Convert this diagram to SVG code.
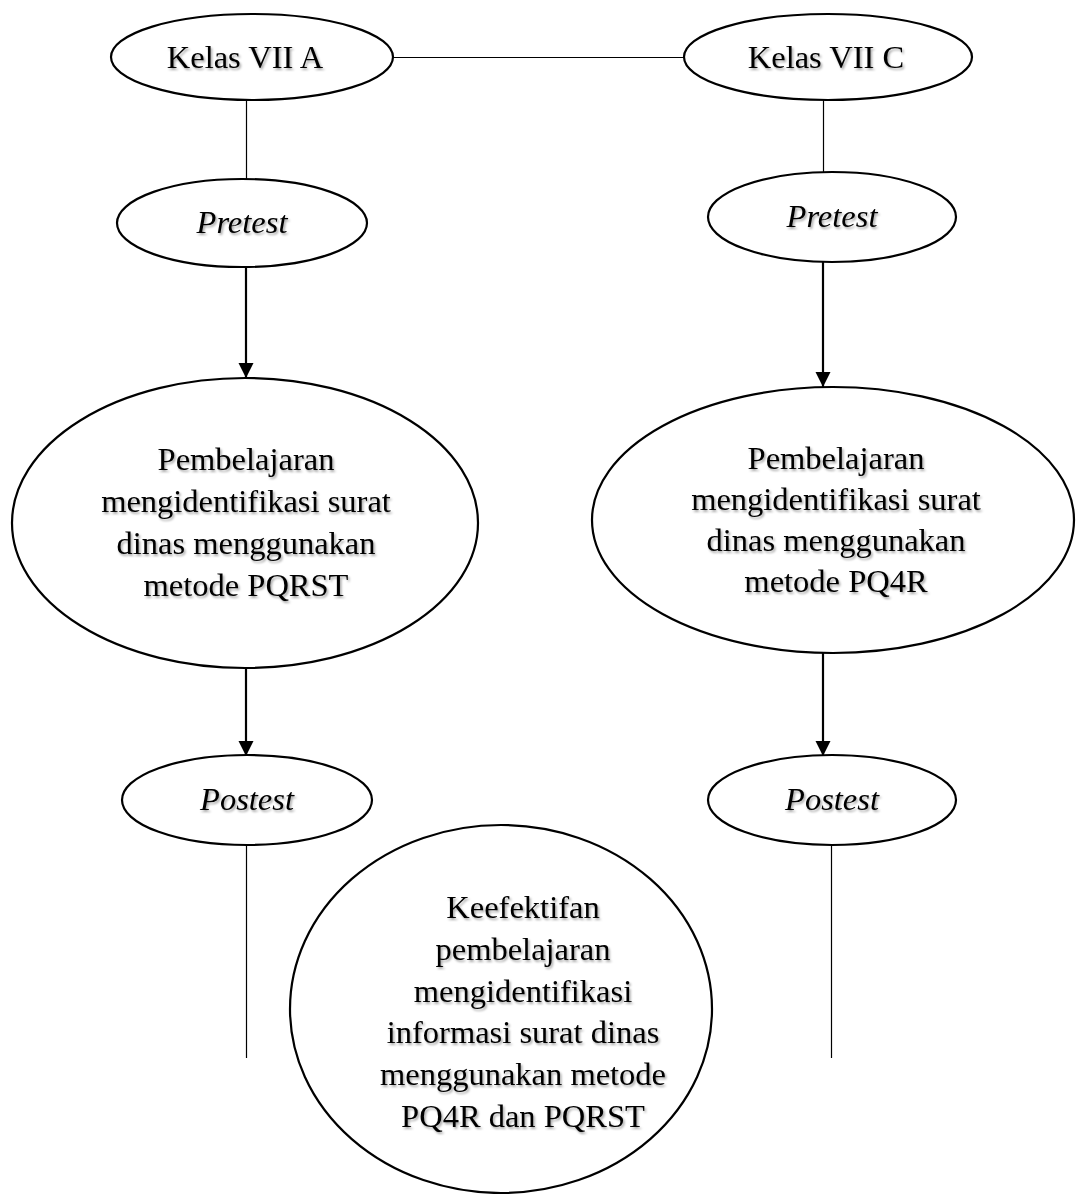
<svg xmlns="http://www.w3.org/2000/svg" width="1076" height="1194" viewBox="0 0 1076 1194">
<defs>
<filter id="sh" x="-10%" y="-30%" width="120%" height="160%">
<feDropShadow dx="1.5" dy="2" stdDeviation="1.3" flood-color="#000" flood-opacity="0.35"/>
</filter>
<marker id="ah" markerWidth="16" markerHeight="16" viewBox="0 0 16 16" refX="15" refY="8" orient="auto" markerUnits="userSpaceOnUse">
<path d="M0,0.5 L15,8 L0,15.5 Z" fill="#000"/>
</marker>
</defs>
<style>
.n{fill:#fff;stroke:#000;stroke-width:2.2}
.t{font-family:"Liberation Serif","Times New Roman",serif;font-size:32.5px;fill:#000;text-anchor:middle;filter:url(#sh)}
.i{font-style:italic}
.thin{stroke:#000;stroke-width:1.2;fill:none}
.arr{stroke:#000;stroke-width:2.2;fill:none;marker-end:url(#ah)}
</style>
<rect width="1076" height="1194" fill="#fff"/>
<g id="connectors">
<line class="thin" x1="393" y1="57.5" x2="684" y2="57.5"/>
<line class="thin" x1="246.5" y1="100" x2="246.5" y2="180"/>
<line class="thin" x1="823.5" y1="100" x2="823.5" y2="173"/>
<line class="arr" x1="246" y1="267" x2="246" y2="378"/>
<line class="arr" x1="823" y1="262" x2="823" y2="387"/>
<line class="arr" x1="246" y1="668" x2="246" y2="756"/>
<line class="arr" x1="823" y1="653" x2="823" y2="756"/>
<line class="thin" x1="246.5" y1="845" x2="246.5" y2="1058"/>
<line class="thin" x1="831.5" y1="845" x2="831.5" y2="1058"/>
</g>
<g id="kelasA">
<ellipse class="n" cx="252" cy="57" rx="141" ry="43"/>
<text class="t" x="245" y="68">Kelas VII A</text>
</g>
<g id="kelasC">
<ellipse class="n" cx="828" cy="57" rx="144" ry="43"/>
<text class="t" x="826" y="68">Kelas VII C</text>
</g>
<g id="pretestA">
<ellipse class="n" cx="242" cy="223" rx="125" ry="44"/>
<text class="t i" x="242" y="233">Pretest</text>
</g>
<g id="pretestC">
<ellipse class="n" cx="832" cy="217" rx="124" ry="45"/>
<text class="t i" x="832" y="227">Pretest</text>
</g>
<g id="pembelajaranA">
<ellipse class="n" cx="245" cy="523" rx="233" ry="145"/>
<text class="t" x="246" y="470">Pembelajaran</text>
<text class="t" x="246" y="512">mengidentifikasi surat</text>
<text class="t" x="246" y="554">dinas menggunakan</text>
<text class="t" x="246" y="596">metode PQRST</text>
</g>
<g id="pembelajaranC">
<ellipse class="n" cx="833" cy="520" rx="241" ry="133"/>
<text class="t" x="836" y="469">Pembelajaran</text>
<text class="t" x="836" y="510">mengidentifikasi surat</text>
<text class="t" x="836" y="551">dinas menggunakan</text>
<text class="t" x="836" y="592">metode PQ4R</text>
</g>
<g id="postestA">
<ellipse class="n" cx="247" cy="800" rx="125" ry="45"/>
<text class="t i" x="247" y="810">Postest</text>
</g>
<g id="postestC">
<ellipse class="n" cx="832" cy="800" rx="124" ry="45"/>
<text class="t i" x="832" y="810">Postest</text>
</g>
<g id="keefektifan">
<ellipse class="n" cx="501" cy="1009" rx="211" ry="184"/>
<text class="t" x="523" y="918">Keefektifan</text>
<text class="t" x="523" y="960">pembelajaran</text>
<text class="t" x="523" y="1002">mengidentifikasi</text>
<text class="t" x="523" y="1043">informasi surat dinas</text>
<text class="t" x="523" y="1085">menggunakan metode</text>
<text class="t" x="523" y="1127">PQ4R dan PQRST</text>
</g>
</svg>
